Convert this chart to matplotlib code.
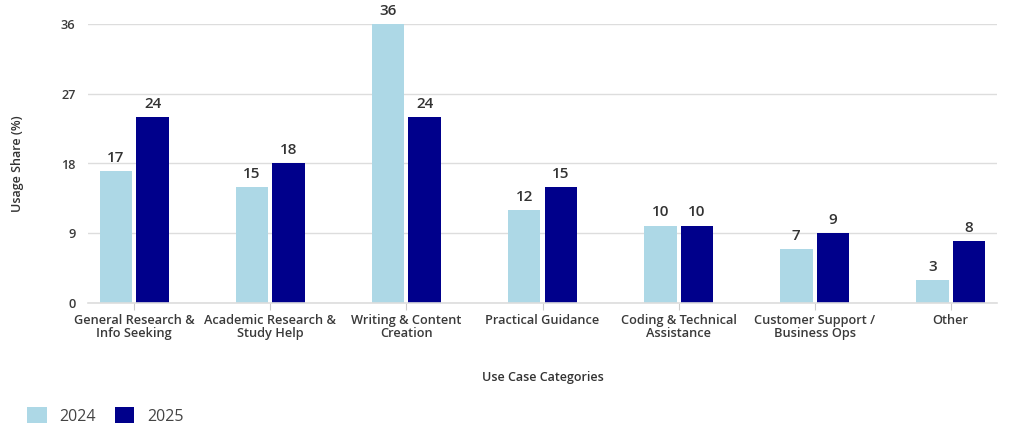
import matplotlib.pyplot as plt
import numpy as np

categories = ['General Research &\nInfo Seeking', 'Academic Research &\nStudy Help',
              'Writing & Content\nCreation', 'Practical Guidance',
              'Coding & Technical\nAssistance', 'Customer Support /\nBusiness Ops', 'Other']
share_2024 = [17, 15, 36, 12, 10, 7, 3]
share_2025 = [24, 18, 24, 15, 10, 9, 8]
yticks = [0, 9, 18, 27, 36]

c24 = '#add8e6'
c25 = '#00008b'

plt.rcParams['font.family'] = ['Open Sans', 'DejaVu Sans']

fig = plt.figure(figsize=(10.24, 4.44), dpi=100)
ax = fig.add_axes([88/1024, 1 - 303/444, 909/1024, (303-24)/444])

x = np.arange(len(categories))
w = 0.24
b1 = ax.bar(x - 0.135, share_2024, w, color=c24, label='2024')
b2 = ax.bar(x + 0.135, share_2025, w, color=c25, label='2025')

for bars, vals in [(b1, share_2024), (b2, share_2025)]:
    for r, v in zip(bars, vals):
        ax.text(r.get_x() + r.get_width()/2, v + 0.8, str(v), ha='center', va='bottom',
                fontsize=11, fontweight='semibold', color='#333333')

ax.set_xlim(-0.34, len(categories) - 1 + 0.34)
ax.set_ylim(0, 36)
ax.set_yticks(yticks)
ax.set_xticks(x)
ax.set_xticklabels(categories, fontsize=9.2, fontweight='semibold', color='#3a3a3a', linespacing=1.0)
ax.tick_params(axis='y', length=0, pad=9, labelsize=9.2, labelcolor='#3a3a3a')
ax.tick_params(axis='x', length=5, color='#cccccc', pad=3)
for lab in ax.get_yticklabels():
    lab.set_fontweight('semibold')

ax.grid(axis='y', color='#dddddd', linewidth=1)
ax.set_axisbelow(True)
for s in ['top', 'right', 'left']:
    ax.spines[s].set_visible(False)
ax.spines['bottom'].set_color('#dddddd')
ax.spines['bottom'].set_linewidth(1.2)

ax.set_xlabel('Use Case Categories', fontsize=9, fontweight='semibold', color='#333333', labelpad=22)
ax.set_ylabel('Usage Share (%)', fontsize=9, fontweight='semibold', color='#333333')
ax.yaxis.set_label_coords(-0.07, 0.5)

fig.legend(handles=[b1, b2], labels=['2024', '2025'], loc='lower left',
           bbox_to_anchor=(13/1024, 5/444), ncol=2, frameon=False, fontsize=11.5,
           handlelength=1.2, handleheight=1.2, handletextpad=0.8, columnspacing=1.2,
           labelcolor='#444444')

fig.savefig('out.png', dpi=100)
